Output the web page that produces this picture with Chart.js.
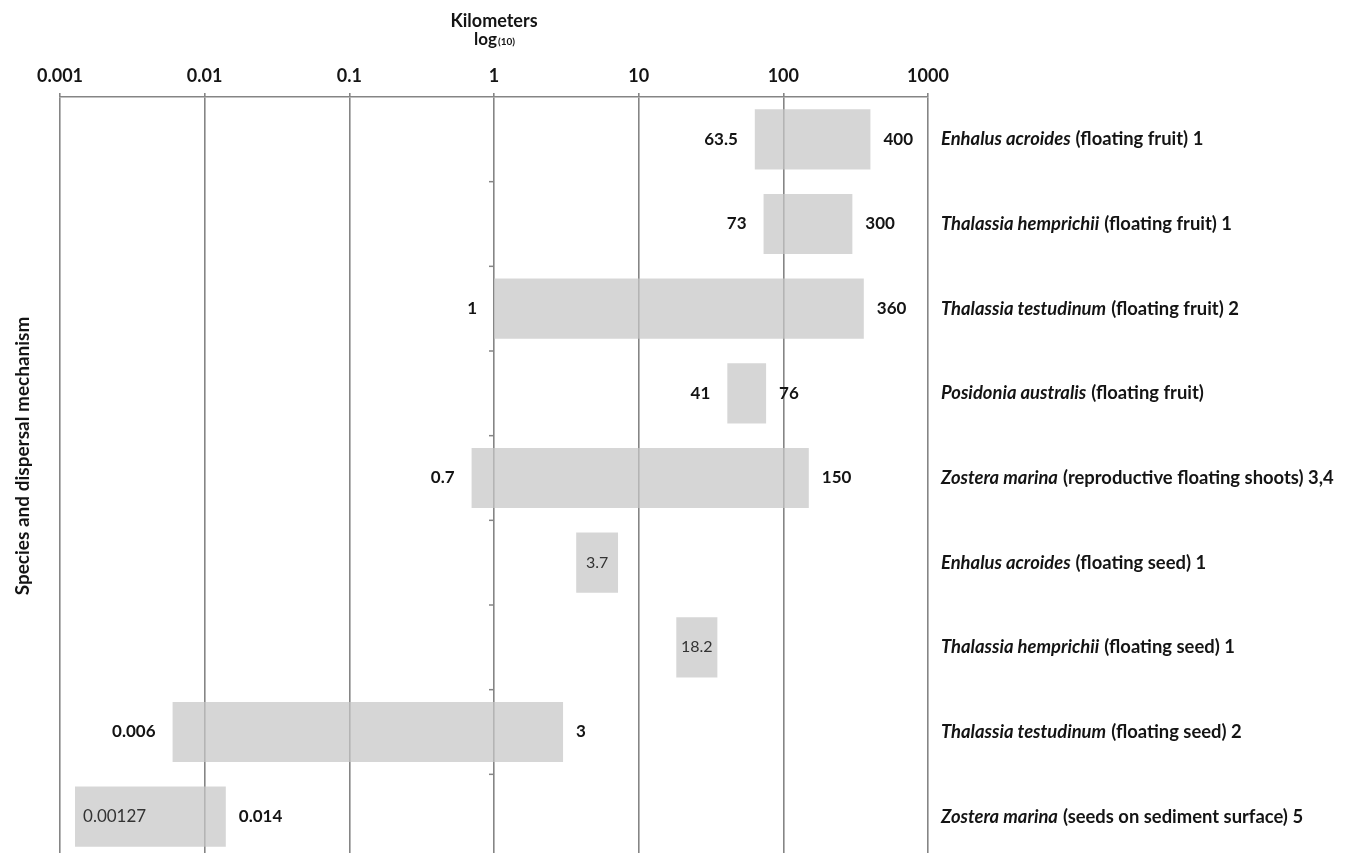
<!DOCTYPE html>
<html>
<head>
<meta charset="utf-8">
<title>Seagrass dispersal distances</title>
<script src="https://cdn.jsdelivr.net/npm/chart.js@4/dist/chart.umd.min.js"></script>
<style>
  html, body { margin: 0; padding: 0; background: #ffffff; overflow: hidden; }
  #wrap { position: relative; width: 1345px; height: 862px; }
</style>
</head>
<body>
<div id="wrap"><canvas id="chart"></canvas></div>
<script>
// Species (italic part of each row label) and the dispersal mechanism that follows it
const speciesNames = [
  'Enhalus acroides', 'Thalassia hemprichii', 'Thalassia testudinum',
  'Posidonia australis', 'Zostera marina', 'Enhalus acroides',
  'Thalassia hemprichii', 'Thalassia testudinum', 'Zostera marina'
];
const mechanisms = [
  '(floating fruit) 1', '(floating fruit) 1', '(floating fruit) 2',
  '(floating fruit)', '(reproductive floating shoots) 3,4', '(floating seed) 1',
  '(floating seed) 1', '(floating seed) 2', '(seeds on sediment surface) 5'
];

// Dispersal distance range in kilometres
const minDistance = [63.5, 73, 1, 41, 0.7, 3.7, 18.2, 0.006, 0.00127];
const maxDistance = [400, 300, 360, 76, 150, 7.2, 35, 3, 0.014];

// Value labels written beside (or inside) each bar
const startLabels  = ['63.5', '73', '1', '41', '0.7', null, null, '0.006', '0.00127'];
const endLabels    = ['400', '300', '360', '76', '150', null, null, '3', '0.014'];
const centreLabels = [null, null, null, null, null, '3.7', '18.2', null, null];
const startInside  = [false, false, false, false, false, false, false, false, true];

// Decade ticks on the log axis
const tickValues = [0.001, 0.01, 0.1, 1, 10, 100, 1000];
const tickLabels = ['0.001', '0.01', '0.1', '1', '10', '100', '1000'];

const FONT = 'Lato, "Open Sans", "DejaVu Sans", sans-serif';
const GRID = '#858585';
const INK = '#141414';

const annotate = {
  id: 'annotate',
  beforeDatasetsDraw(chart) {
    // small category tick marks on the vertical axis crossing at 1 km
    const { ctx, scales: { x, y } } = chart;
    const ax = x.getPixelForValue(1);
    ctx.save();
    ctx.strokeStyle = GRID;
    ctx.lineWidth = 1.5;
    for (let i = 0; i < speciesNames.length - 1; i++) {
      const yb = (y.getPixelForValue(i) + y.getPixelForValue(i + 1)) / 2;
      ctx.beginPath();
      ctx.moveTo(ax - 5, yb);
      ctx.lineTo(ax, yb);
      ctx.stroke();
    }
    ctx.restore();
  },
  afterDatasetsDraw(chart) {
    const { ctx, chartArea, scales: { x, y } } = chart;
    ctx.save();
    ctx.textBaseline = 'middle';

    speciesNames.forEach((name, i) => {
      const yc = y.getPixelForValue(i);
      const x0 = x.getPixelForValue(minDistance[i]);
      const x1 = x.getPixelForValue(maxDistance[i]);

      if (startLabels[i]) {
        if (startInside[i]) {
          ctx.font = '17px ' + FONT;
          ctx.fillStyle = '#333333';
          ctx.textAlign = 'left';
          ctx.fillText(startLabels[i], x0 + 8, yc);
        } else {
          ctx.font = 'bold 17px ' + FONT;
          ctx.fillStyle = INK;
          ctx.textAlign = 'right';
          ctx.fillText(startLabels[i], x0 - 17, yc);
        }
      }
      if (endLabels[i]) {
        ctx.font = 'bold 17px ' + FONT;
        ctx.fillStyle = INK;
        ctx.textAlign = 'left';
        ctx.fillText(endLabels[i], x1 + 13, yc);
      }
      if (centreLabels[i]) {
        ctx.font = '16px ' + FONT;
        ctx.fillStyle = '#333333';
        ctx.textAlign = 'center';
        ctx.fillText(centreLabels[i], (x0 + x1) / 2, yc);
      }

      // category label to the right of the plot: italic species, upright mechanism
      let lx = chartArea.right + 13;
      ctx.textAlign = 'left';
      ctx.fillStyle = INK;
      ctx.font = 'italic bold 18.4px ' + FONT;
      ctx.fillText(name, lx, yc);
      lx += ctx.measureText(name).width + 5;
      ctx.font = 'bold 18.4px ' + FONT;
      ctx.fillText(mechanisms[i], lx, yc);
    });

    // axis titles
    const cx = (chartArea.left + chartArea.right) / 2;
    ctx.fillStyle = INK;
    ctx.textAlign = 'center';
    ctx.textBaseline = 'alphabetic';
    ctx.font = 'bold 18px ' + FONT;
    ctx.fillText('Kilometers', cx, 27);

    ctx.font = 'bold 17px ' + FONT;
    const wLog = ctx.measureText('log').width;
    ctx.font = 'bold 10px ' + FONT;
    const wSub = ctx.measureText('(10)').width;
    const sx = cx - (wLog + wSub) / 2;
    ctx.textAlign = 'left';
    ctx.font = 'bold 17px ' + FONT;
    ctx.fillText('log', sx, 45);
    ctx.font = 'bold 10px ' + FONT;
    ctx.fillText('(10)', sx + wLog + 1, 45);

    ctx.translate(23, 456);
    ctx.rotate(-Math.PI / 2);
    ctx.textAlign = 'center';
    ctx.textBaseline = 'middle';
    ctx.font = 'bold 19px ' + FONT;
    ctx.fillText('Species and dispersal mechanism', 0, 0);
    ctx.restore();
  }
};

new Chart(document.getElementById('chart'), {
  type: 'bar',
  data: {
    labels: speciesNames.map((s, i) => s + ' ' + mechanisms[i]),
    datasets: [{
      data: minDistance.map((v, i) => [v, maxDistance[i]]),
      backgroundColor: 'rgba(198, 198, 198, 0.72)',
      borderWidth: 0,
      barPercentage: 0.71,
      categoryPercentage: 1
    }]
  },
  options: {
    indexAxis: 'y',
    responsive: true,
    maintainAspectRatio: false,
    animation: false,
    layout: { padding: { left: 60, right: 417, top: 0, bottom: 3 } },
    plugins: { legend: { display: false }, tooltip: { enabled: false } },
    scales: {
      x: {
        type: 'logarithmic',
        position: 'top',
        min: 0.001,
        max: 1000,
        afterBuildTicks: (scale) => { scale.ticks = tickValues.map(v => ({ value: v })); },
        afterFit: (scale) => { scale.height = 97; },
        ticks: {
          callback: (value, index) => tickLabels[index],
          font: { family: FONT, size: 18, weight: 'bold' },
          color: INK,
          padding: 6,
          maxRotation: 0,
          autoSkip: false
        },
        grid: { color: GRID, lineWidth: 1.6, tickLength: 4 },
        border: { color: GRID, width: 1.6 }
      },
      y: { display: false, offset: true }
    }
  },
  plugins: [annotate]
});
</script>
</body>
</html>
